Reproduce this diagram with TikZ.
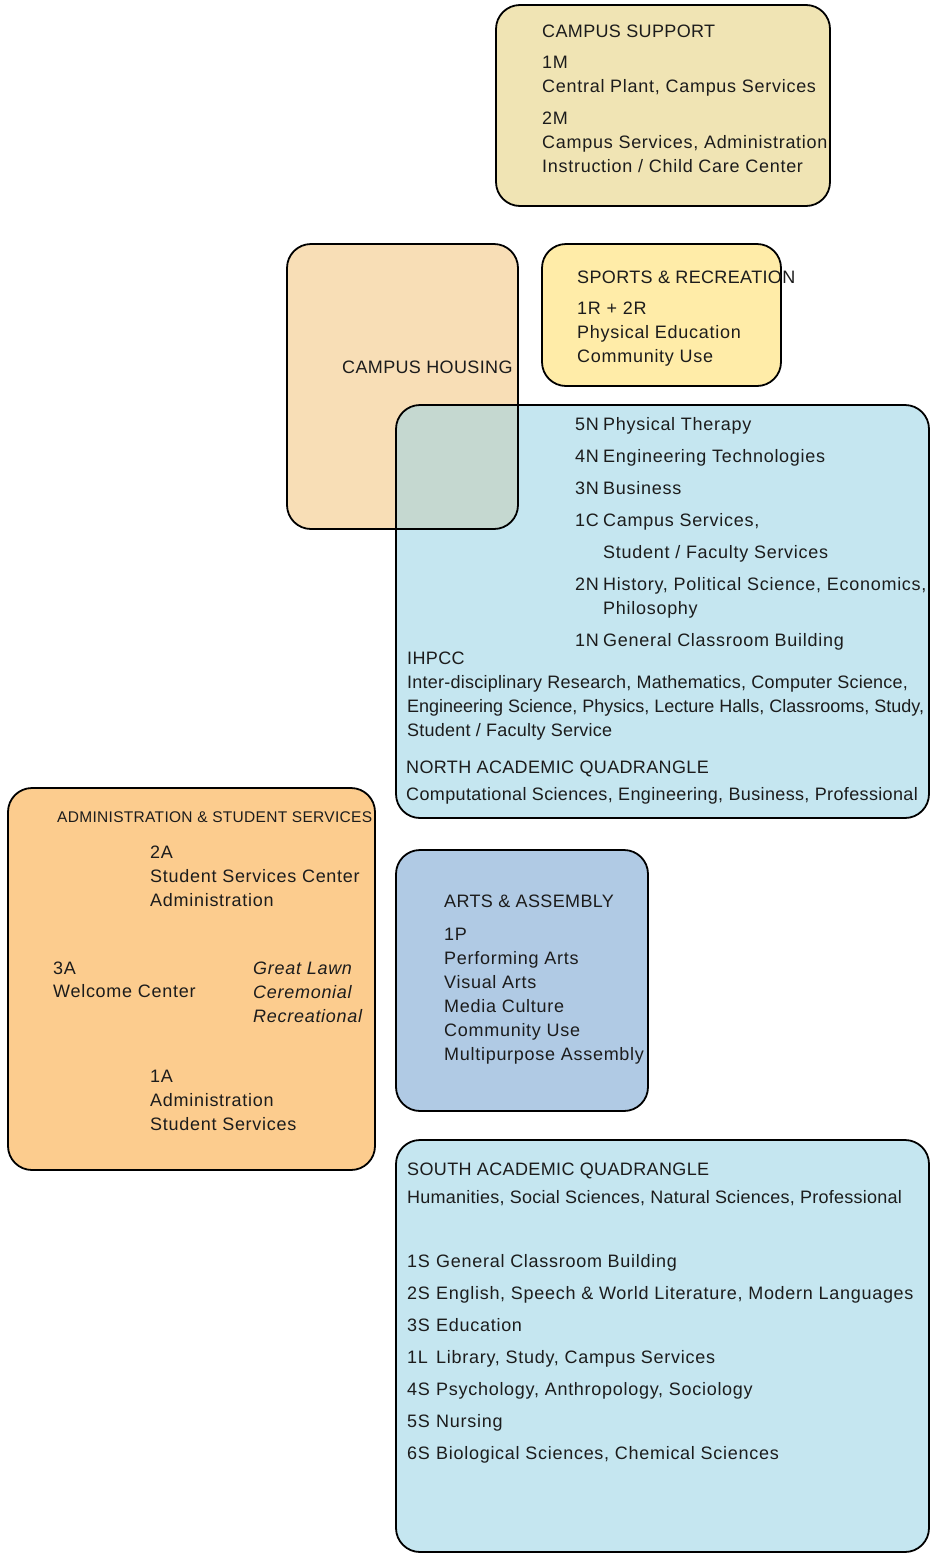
\documentclass[tikz,border=0pt]{standalone}
\usepackage{fontspec}
\setmainfont{Liberation Sans}[LetterSpace=4]
\newfontfamily\fTitle{Liberation Sans}[LetterSpace=2]
\newfontfamily\fTight{Liberation Sans}[LetterSpace=1.3]
\newfontfamily\fTighter{Liberation Sans}[LetterSpace=0]
\definecolor{supportc}{RGB}{240,228,180}
\definecolor{housingc}{RGB}{248,222,182}
\definecolor{sportsc}{RGB}{255,236,168}
\definecolor{quadc}{RGB}{197,230,240}
\definecolor{overlapc}{RGB}{197,216,208}
\definecolor{adminc}{RGB}{252,204,142}
\definecolor{artsc}{RGB}{176,202,228}
\definecolor{inkc}{RGB}{28,28,28}
\tikzset{
  zone/.style={rounded corners=24pt},
  zoneline/.style={draw=black, line width=1.8pt, rounded corners=24pt},
  txt/.style={anchor=base west, inner sep=0pt, text=inkc, font=\fontsize{18}{22}\selectfont},
  ttl/.style={txt, font=\fontsize{18}{22}\selectfont\fTitle},
  tight/.style={txt, font=\fontsize{18}{22}\selectfont\fTight},
  tighter/.style={txt, font=\fontsize{18}{22}\selectfont\fTighter},
  smalltxt/.style={txt, font=\fontsize{15.5}{19}\selectfont\fTitle},
  ittxt/.style={txt, font=\fontsize{18}{22}\selectfont\itshape}
}
\begin{document}
\begin{tikzpicture}[x=1pt,y=-1pt]
\useasboundingbox (0,0) rectangle (935,1553);
% fills
\fill[supportc, zone] (496,5) rectangle (830,206);
\fill[housingc, zone] (287,244) rectangle (518,529);
\fill[sportsc, zone] (542,244) rectangle (781,386);
\fill[quadc, zone] (396,405) rectangle (929,818);
\begin{scope}
  \clip[zone] (287,244) rectangle (518,529);
  \fill[overlapc, zone] (396,405) rectangle (929,818);
\end{scope}
\fill[adminc, zone] (8,788) rectangle (375,1170);
\fill[artsc, zone] (396,850) rectangle (648,1111);
\fill[quadc, zone] (396,1140) rectangle (929,1552);
% outlines
\draw[zoneline] (496,5) rectangle (830,206);
\draw[zoneline] (287,244) rectangle (518,529);
\draw[zoneline] (542,244) rectangle (781,386);
\draw[zoneline] (396,405) rectangle (929,818);
\draw[zoneline] (8,788) rectangle (375,1170);
\draw[zoneline] (396,850) rectangle (648,1111);
\draw[zoneline] (396,1140) rectangle (929,1552);

% Campus support
\node[ttl] (cs0) at (542,37) {CAMPUS SUPPORT};
\node[txt] (cs1) at (542,68) {1M};
\node[txt] (cs2) at (542,92) {Central Plant, Campus Services};
\node[txt] (cs3) at (542,124) {2M};
\node[txt] (cs4) at (542,148) {Campus Services, Administration};
\node[txt] (cs5) at (542,172) {Instruction / Child Care Center};

% Housing
\node[ttl] (ch0) at (342,373) {CAMPUS HOUSING};

% Sports
\node[ttl] (sr0) at (577,283) {SPORTS \& RECREATION};
\node[txt] (sr1) at (577,314) {1R + 2R};
\node[txt] (sr2) at (577,338) {Physical Education};
\node[txt] (sr3) at (577,362) {Community Use};

% North quad
\node[txt] (n5l) at (575,430) {5N};
\node[txt] (n5t) at (603,430) {Physical Therapy};
\node[txt] (n4l) at (575,462) {4N};
\node[txt] (n4t) at (603,462) {Engineering Technologies};
\node[txt] (n3l) at (575,494) {3N};
\node[txt] (n3t) at (603,494) {Business};
\node[txt] (n1cl) at (575,526) {1C};
\node[txt] (n1ct) at (603,526) {Campus Services,};
\node[txt] (n1ct2) at (603,558) {Student / Faculty Services};
\node[txt] (n2l) at (575,590) {2N};
\node[txt] (n2t) at (603,590) {History, Political Science, Economics,};
\node[txt] (n2t2) at (603,614) {Philosophy};
\node[txt] (n1l) at (575,646) {1N};
\node[txt] (n1t) at (603,646) {General Classroom Building};
\node[ttl] (ih0) at (407,664) {IHPCC};
\node[tight] (ih1) at (407,688) {Inter-disciplinary Research, Mathematics, Computer Science,};
\node[tighter] (ih2) at (407,712) {Engineering Science, Physics, Lecture Halls, Classrooms, Study,};
\node[tight] (ih3) at (407,736) {Student / Faculty Service};
\node[ttl] (nq0) at (406,773) {NORTH ACADEMIC QUADRANGLE};
\node[ttl] (nq1) at (406,800) {Computational Sciences, Engineering, Business, Professional};

% Admin
\node[smalltxt] (ad0) at (57,822) {ADMINISTRATION \& STUDENT SERVICES};
\node[txt] (a21) at (150,858) {2A};
\node[txt] (a22) at (150,882) {Student Services Center};
\node[txt] (a23) at (150,906) {Administration};
\node[txt] (a31) at (53,974) {3A};
\node[txt] (a32) at (53,997) {Welcome Center};
\node[ittxt] (gl1) at (253,974) {Great Lawn};
\node[ittxt] (gl2) at (253,998) {Ceremonial};
\node[ittxt] (gl3) at (253,1022) {Recreational};
\node[txt] (a11) at (150,1082) {1A};
\node[txt] (a12) at (150,1106) {Administration};
\node[txt] (a13) at (150,1130) {Student Services};

% Arts
\node[ttl] (ar0) at (444,907) {ARTS \& ASSEMBLY};
\node[txt] (ar1) at (444,940) {1P};
\node[txt] (ar2) at (444,964) {Performing Arts};
\node[txt] (ar3) at (444,988) {Visual Arts};
\node[txt] (ar4) at (444,1012) {Media Culture};
\node[txt] (ar5) at (444,1036) {Community Use};
\node[txt] (ar6) at (444,1060) {Multipurpose Assembly};

% South quad
\node[ttl] (sq0) at (407,1175) {SOUTH ACADEMIC QUADRANGLE};
\node[tight] (sq1) at (407,1203) {Humanities, Social Sciences, Natural Sciences, Professional};
\node[txt] (s1l) at (407,1267) {1S};
\node[txt] (s1t) at (436,1267) {General Classroom Building};
\node[txt] (s2l) at (407,1299) {2S};
\node[txt] (s2t) at (436,1299) {English, Speech \& World Literature, Modern Languages};
\node[txt] (s3l) at (407,1331) {3S};
\node[txt] (s3t) at (436,1331) {Education};
\node[txt] (l1l) at (407,1363) {1L};
\node[txt] (l1t) at (436,1363) {Library, Study, Campus Services};
\node[txt] (s4l) at (407,1395) {4S};
\node[txt] (s4t) at (436,1395) {Psychology, Anthropology, Sociology};
\node[txt] (s5l) at (407,1427) {5S};
\node[txt] (s5t) at (436,1427) {Nursing};
\node[txt] (s6l) at (407,1459) {6S};
\node[txt] (s6t) at (436,1459) {Biological Sciences, Chemical Sciences};
\end{tikzpicture}
\end{document}
